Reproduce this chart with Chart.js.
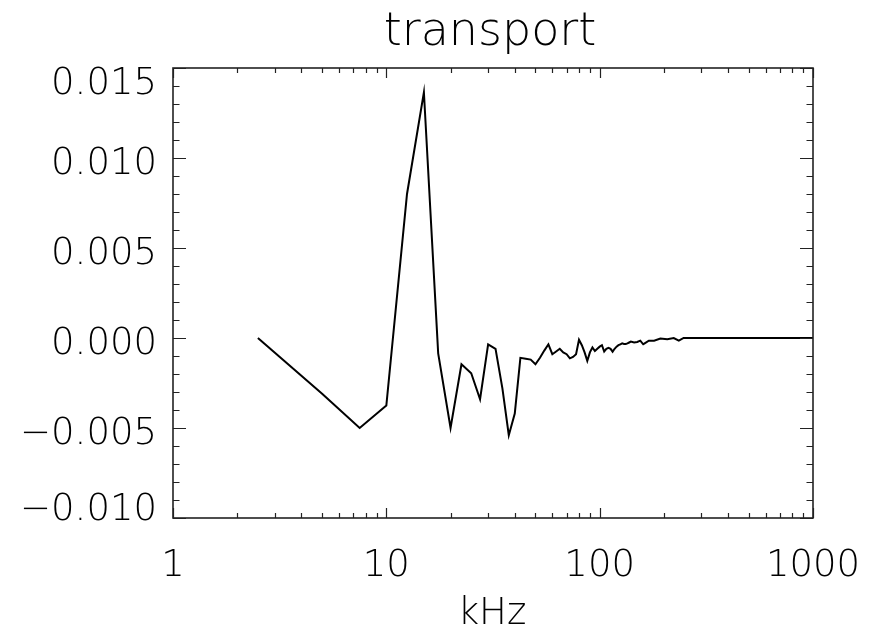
<!DOCTYPE html>
<html lang="en">
<head>
    <meta charset="UTF-8" />
    <title>transport</title>
    <script src="https://cdn.jsdelivr.net/npm/chart.js"></script>
    <style>
        html, body { margin: 0; padding: 0; background: #fff; }
        .chart-container { width: 873px; height: 628px; position: relative; }
        canvas { display: block; }
    </style>
</head>
<body>
<div class="chart-container">
    <canvas id="transportChart"></canvas>
</div>

<script>
// frequency (kHz) and transport values
const freqKHz = [
    2.5, 5, 7.5, 10, 12.5, 15, 17.5, 20, 22.5, 25, 27.5, 30, 32.5, 35, 37.5, 40,
    42.5, 45, 47.5, 50, 52.5, 55, 57.5, 60, 62.5, 65, 67.5, 70, 72.5, 75, 77.5, 80,
    82.5, 85, 87.5, 90, 92.5, 95, 97.5, 100, 102.5, 105, 107.5, 110, 112.5, 115, 117.5, 120,
    122.5, 125, 127.5, 130, 132.5, 135, 137.5, 140, 145, 150, 155, 160, 162.5, 170,
    180, 192.5, 207.5, 222.5, 235, 247.5, 300, 400, 500, 700, 1000
];
const transport = [
    0.0, -0.0031, -0.0050, -0.00375, 0.0080, 0.01365, -0.00085, -0.0050, -0.00146, -0.00196, -0.0034, -0.00035, -0.0006, -0.0028, -0.0054, -0.0042,
    -0.0011, -0.00115, -0.0012, -0.00146, -0.0011, -0.0007, -0.00035, -0.0009, -0.00075, -0.0006, -0.0008, -0.0009, -0.00113, -0.00105, -0.0009, -0.0001,
    -0.0004, -0.0008, -0.00127, -0.0008, -0.00052, -0.00072, -0.0006, -0.00048, -0.0004, -0.00075, -0.0006, -0.00055, -0.0006, -0.00076, -0.0006, -0.00048,
    -0.0004, -0.00035, -0.0003, -0.00033, -0.00033, -0.0003, -0.00025, -0.0002, -0.00025, -0.00022, -0.00015, -0.00035, -0.0003, -0.00015,
    -0.00015, -0.00003, -0.00007, 0.0, -0.00015, 0.0, 0.0, 0.0, 0.0, 0.0, 0.0
];

const xMajorTicks = [1, 10, 100, 1000];
const xTickLabels = ['1', '10', '100', '1000'];
const yMajorTicks = [-0.010, -0.005, 0.000, 0.005, 0.010, 0.015];
const yTickLabels = ['\u22120.010', '\u22120.005', '0.000', '0.005', '0.010', '0.015'];
const yMinorStep = 0.001;

const titleText = 'transport';
const xTitleText = 'kHz';

const fontFamily = '"DejaVu Sans", "Liberation Sans", sans-serif';
const labelFont = '200 37px ' + fontFamily;
const titleFont = '200 46px ' + fontFamily;

// minor ticks of a log axis: 2..9 in each decade
const xMinorTicks = [];
for (let d = 1; d < 1000; d *= 10) {
    for (let m = 2; m <= 9; m++) xMinorTicks.push(m * d);
}

// IDL style box: inward ticks on all four sides, labels placed inside the axis span
const idlAxes = {
    id: 'idlAxes',
    afterDraw(chart) {
        const ctx = chart.ctx;
        const { left, right, top, bottom } = chart.chartArea;
        const xs = chart.scales.x;
        const ys = chart.scales.y;
        ctx.save();
        ctx.strokeStyle = '#222';

        // x ticks, bottom and top
        ctx.lineWidth = 1.2;
        ctx.beginPath();
        xMajorTicks.forEach(v => {
            const px = Math.round(xs.getPixelForValue(v)) + 0.5;
            ctx.moveTo(px, bottom); ctx.lineTo(px, bottom - 10);
            ctx.moveTo(px, top); ctx.lineTo(px, top + 10);
        });
        xMinorTicks.forEach(v => {
            const px = Math.round(xs.getPixelForValue(v)) + 0.5;
            ctx.moveTo(px, bottom); ctx.lineTo(px, bottom - 5);
            ctx.moveTo(px, top); ctx.lineTo(px, top + 5);
        });

        // y ticks, left and right
        const yMin = ys.min, yMax = ys.max;
        for (let v = yMin; v <= yMax + 1e-9; v += yMinorStep) {
            const isMajor = yMajorTicks.some(t => Math.abs(t - v) < 1e-9);
            const len = isMajor ? 13 : 6.5;
            const py = Math.round(ys.getPixelForValue(v)) + 0.5;
            ctx.moveTo(left, py); ctx.lineTo(left + len, py);
            ctx.moveTo(right, py); ctx.lineTo(right - len, py);
        }
        ctx.stroke();

        // frame
        ctx.lineWidth = 1.6;
        ctx.strokeRect(left, top, right - left, bottom - top);

        // labels
        ctx.fillStyle = '#000';
        ctx.font = labelFont;
        ctx.textBaseline = 'alphabetic';
        ctx.textAlign = 'right';
        yMajorTicks.forEach((v, i) => {
            let base = ys.getPixelForValue(v) + 16;
            base = Math.max(base, top + 25.5);
            base = Math.min(base, bottom + 2);
            ctx.fillText(yTickLabels[i], left - 16, base);
        });
        ctx.textAlign = 'center';
        xMajorTicks.forEach((v, i) => {
            ctx.fillText(xTickLabels[i], xs.getPixelForValue(v), bottom + 58);
        });
        ctx.fillText(xTitleText, (left + right) / 2 - 1, bottom + 106);

        ctx.font = titleFont;
        ctx.fillText(titleText, (left + right) / 2 - 3, 45);
        ctx.restore();
    }
};

new Chart(document.getElementById('transportChart'), {
    type: 'line',
    data: {
        datasets: [{
            label: titleText,
            data: freqKHz.map((f, i) => ({ x: f, y: transport[i] })),
            borderColor: '#000',
            borderWidth: 2,
            pointRadius: 0,
            tension: 0,
            fill: false
        }]
    },
    options: {
        responsive: true,
        maintainAspectRatio: false,
        animation: false,
        layout: {
            padding: { left: 173, right: 60, top: 68, bottom: 110 }
        },
        plugins: {
            legend: { display: false },
            title: { display: false },
            tooltip: { enabled: false }
        },
        scales: {
            x: { type: 'logarithmic', min: 1, max: 1000, display: false },
            y: { type: 'linear', min: -0.010, max: 0.015, display: false }
        }
    },
    plugins: [idlAxes]
});
</script>
</body>
</html>
